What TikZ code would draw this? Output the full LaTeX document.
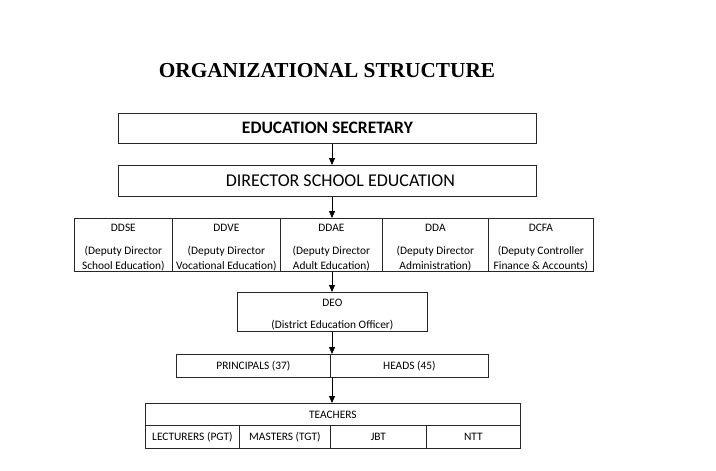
\documentclass[tikz,border=0pt]{standalone}
\usepackage{fontspec}
\setmainfont{Carlito}
\newfontfamily\titlefont{Liberation Serif}
\usetikzlibrary{arrows.meta,calc}
\begin{document}
\begin{tikzpicture}[x=1pt,y=-1pt,
  cell/.style={draw=black!85,line width=0.8pt,rectangle,inner sep=0pt,anchor=north west,align=center},
  small/.style={font=\fontsize{11.4}{15}\selectfont,text depth=0pt},
  lower/.style={font=\fontsize{11.4}{14}\selectfont},
  conn/.style={line width=0.8pt,-{Triangle[width=6pt,length=7pt]}}]
\useasboundingbox (0,0) rectangle (716,471);
\coordinate (axis) at (332,0);
\node (title) at (327,71) {\titlefont\bfseries\fontsize{21.3}{24}\selectfont ORGANIZATIONAL STRUCTURE};
\node[cell,minimum width=418pt,minimum height=30pt] (es) at (118,113) {\raisebox{1pt}{\fontsize{17.5}{19}\selectfont\bfseries EDUCATION SECRETARY}};
\node[cell,minimum width=418pt,minimum height=31pt] (dir) at (118,165) {\hspace*{26pt}\fontsize{18}{20}\selectfont DIRECTOR SCHOOL EDUCATION};
% deputies row
\node[cell,small,minimum width=98pt,minimum height=53pt] (ddse) at (74,218) {\\[-3pt]DDSE\\[8pt](Deputy Director\\School Education)};
\node[cell,small,minimum width=108pt,minimum height=53pt] (ddve) at (172,218) {\\[-3pt]DDVE\\[8pt](Deputy Director\\Vocational Education)};
\node[cell,small,minimum width=102pt,minimum height=53pt] (ddae) at (280,218) {\\[-3pt]DDAE\\[8pt](Deputy Director\\Adult Education)};
\node[cell,small,minimum width=106pt,minimum height=53pt] (dda) at (382,218) {\\[-3pt]DDA\\[8pt](Deputy Director\\Administration)};
\node[cell,small,minimum width=105pt,minimum height=53pt] (dcfa) at (488,218) {\\[-3pt]DCFA\\[8pt](Deputy Controller\\Finance \& Accounts)};
% DEO
\node[cell,small,minimum width=190pt,minimum height=39pt] (deo) at (237,292) {\\[-3pt]DEO\\[7pt](District Education Officer)};
% principals / heads
\node[cell,lower,minimum width=154pt,minimum height=23pt] (prin) at (176,354) {PRINCIPALS (37)};
\node[cell,lower,minimum width=158pt,minimum height=23pt] (heads) at (330,354) {HEADS (45)};
% teachers
\node[cell,lower,minimum width=375pt,minimum height=22pt] (teach) at (145,403) {TEACHERS};
\node[cell,lower,minimum width=94pt,minimum height=23pt] (pgt) at (145,425) {LECTURERS (PGT)};
\node[cell,lower,minimum width=91pt,minimum height=23pt] (tgt) at (239,425) {MASTERS (TGT)};
\node[cell,lower,minimum width=96pt,minimum height=23pt] (jbt) at (330,425) {JBT};
\node[cell,lower,minimum width=94pt,minimum height=23pt] (ntt) at (426,425) {NTT};
% connectors
\draw[conn] (es.south -| axis) -- (dir.north -| axis);
\draw[conn] (dir.south -| axis) -- (ddae.north -| axis);
\draw[conn] (ddae.south -| axis) -- (deo.north -| axis);
\draw[conn] (deo.south -| axis) -- (heads.north -| axis);
\draw[conn] (heads.south -| axis) -- (teach.north -| axis);
\end{tikzpicture}
\end{document}
